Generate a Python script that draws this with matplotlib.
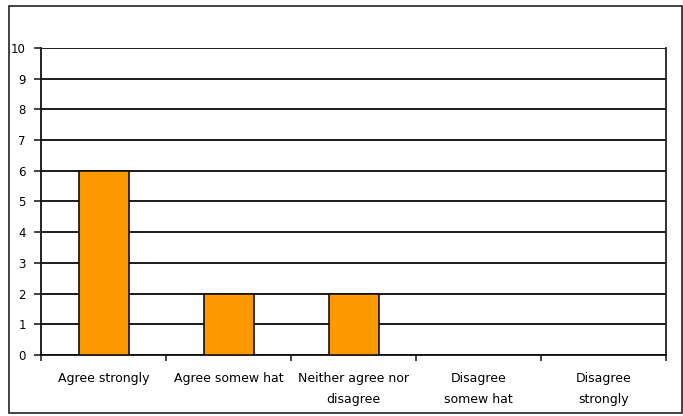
import matplotlib
matplotlib.use('Agg')
import matplotlib.pyplot as plt
from matplotlib.patches import Rectangle

# survey responses
categories = ['Agree strongly', 'Agree somew hat', 'Neither agree nor\ndisagree',
              'Disagree\nsomew hat', 'Disagree\nstrongly']
counts = [6, 2, 2, 0, 0]
yticks = list(range(0, 11))

plt.rcParams['font.family'] = ['DejaVu Sans']

W, H = 683, 416
fig = plt.figure(figsize=(W / 100, H / 100), dpi=100)
fig.patch.set_facecolor('white')

# outer chart frame
fig.patches.append(Rectangle((9 / W, 1 - 413 / H), (682 - 9) / W, (413 - 6) / H,
                             transform=fig.transFigure, fill=False,
                             edgecolor='#222222', linewidth=1.2))

ax = fig.add_axes([41 / W, 1 - 355 / H, (666 - 41) / W, (355 - 48) / H])
x = list(range(len(categories)))
ax.bar(x, counts, width=0.4, color='#FF9900', edgecolor='#111111',
       linewidth=1.2, zorder=3)

ax.set_xlim(-0.5, len(categories) - 0.5)
ax.set_ylim(0, 10)
ax.set_yticks(yticks)
ax.set_yticklabels([str(v) for v in yticks], fontsize=8.5)
ax.yaxis.grid(True, color='#1a1a1a', linewidth=1.4, zorder=0)

ax.set_xticks([i + 0.5 for i in x[:-1]] + [-0.5, len(categories) - 0.5])
ax.set_xticklabels([])
ax.tick_params(axis='x', length=4, width=1.2, color='#222222')
ax.tick_params(axis='y', length=5, width=1.2, color='#222222', pad=6)
for i, lab in enumerate(categories):
    ax.text(i, -0.55, lab, ha='center', va='top', fontsize=9,
            linespacing=1.85, transform=ax.transData)

for s in ['left', 'bottom']:
    ax.spines[s].set_color('#111111')
    ax.spines[s].set_linewidth(1.3)
ax.spines['right'].set_color('#222222')
ax.spines['right'].set_linewidth(1.3)
ax.spines['top'].set_visible(False)

fig.savefig('out.png', dpi=100)
